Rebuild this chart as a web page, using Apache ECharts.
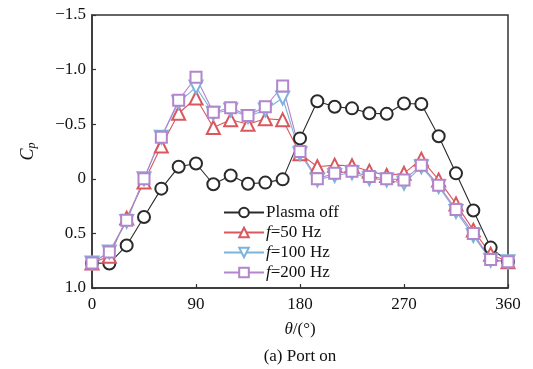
<!DOCTYPE html>
<html><head><meta charset="utf-8">
<script src="https://cdn.jsdelivr.net/npm/echarts@6/dist/echarts.min.js"></script>
<style>html,body{margin:0;padding:0;background:#fff}#c{width:533px;height:369px}</style>
</head><body><div id="c"></div>
<script>
const angles = [0,15,30,45,60,75,90,105,120,135,150,165,180,195,210,225,240,255,270,285,300,315,330,345,360];
const plasmaOff = [0.77,0.775,0.61,0.35,0.09,-0.11,-0.14,0.05,-0.03,0.045,0.035,0.005,-0.37,-0.71,-0.66,-0.645,-0.60,-0.595,-0.69,-0.685,-0.39,-0.05,0.29,0.63,0.76];
const f50 = [0.77,0.71,0.36,0.03,-0.30,-0.60,-0.74,-0.47,-0.54,-0.50,-0.55,-0.54,-0.23,-0.11,-0.125,-0.12,-0.07,-0.03,-0.05,-0.18,0.01,0.23,0.47,0.69,0.76];
const f100 = [0.77,0.67,0.39,0.0,-0.38,-0.70,-0.84,-0.60,-0.63,-0.57,-0.63,-0.74,-0.23,0.01,-0.03,-0.055,0.0,0.01,0.04,-0.11,0.07,0.30,0.52,0.745,0.76];
const f200 = [0.77,0.67,0.38,0.0,-0.38,-0.72,-0.93,-0.61,-0.65,-0.58,-0.66,-0.85,-0.25,0.0,-0.05,-0.07,-0.02,0.0,0.01,-0.125,0.06,0.28,0.50,0.74,0.76];
const seriesNames = ['Plasma off','f=50 Hz','f=100 Hz','f=200 Hz'];
const yTicks = [-1.5,-1.0,-0.5,0,0.5,1.0];
const xTicks = [0,90,180,270,360];

const FONT = '"Liberation Serif","Times New Roman",serif';
const pair = arr => angles.map((a,i)=>[a,arr[i]]);
const chart = echarts.init(document.getElementById('c'));
const mk = (name, data, color, symbol, size, rot) => ({
  name, type:'line', data: pair(data), symbol, symbolSize:size, symbolRotate: rot||0,
  lineStyle:{color, width:1.1}, itemStyle:{color, borderWidth:1.1}, emphasis:{disabled:true}, z: 2
});
chart.setOption({
  animation:false,
  textStyle:{fontFamily:FONT},
  grid:{left:92,right:25,top:15,bottom:81,show:true,borderColor:'#333',borderWidth:1.5,backgroundColor:'transparent'},
  legend:{
    orient:'vertical', left:218, top:199, itemWidth:40, itemHeight:12, itemGap:3,
    textStyle:{fontFamily:FONT,fontSize:17,color:'#111',padding:[0,0,0,-3],
      rich:{i:{fontStyle:'italic',fontFamily:FONT,fontSize:17,color:'#111'},n:{fontFamily:FONT,fontSize:17,color:'#111'}}},
    formatter: n => n.startsWith('f=') ? '{i|f}{n|' + n.slice(1) + '}' : n,
    data: seriesNames
  },
  xAxis:{
    type:'value', min:xTicks[0], max:xTicks[xTicks.length-1], interval:90,
    name:'{i|θ}{n|/(°)}', nameLocation:'middle', nameGap:33,
    nameTextStyle:{rich:{i:{fontStyle:'italic',fontFamily:FONT,fontSize:17,color:'#111'},n:{fontFamily:FONT,fontSize:17,color:'#111'}}},
    axisLine:{onZero:false,lineStyle:{color:'#333',width:1.5}},
    axisTick:{inside:true,length:4,lineStyle:{color:'#333',width:1.2}},
    axisLabel:{fontFamily:FONT,fontSize:17,color:'#111',margin:8, showMinLabel:true, showMaxLabel:true},
    splitLine:{show:false}
  },
  yAxis:{
    type:'value', inverse:true, min:yTicks[0], max:yTicks[yTicks.length-1], interval:0.5,
    name:'{i|C}{s|p}', nameLocation:'middle', nameGap:54,
    nameTextStyle:{rich:{i:{fontStyle:'italic',fontFamily:FONT,fontSize:18,color:'#111'},s:{fontStyle:'italic',fontFamily:FONT,fontSize:12,color:'#111',verticalAlign:'bottom',padding:[8,0,0,0]}}},
    axisLine:{onZero:false,lineStyle:{color:'#333',width:1.5}},
    axisTick:{inside:true,length:4,lineStyle:{color:'#333',width:1.2}},
    axisLabel:{fontFamily:FONT,fontSize:17,color:'#111',margin:6,
      formatter: v => v===0 ? '0' : (v<0?'\u2212':'') + Math.abs(v).toFixed(1)},
    splitLine:{show:false}
  },
  graphic:[{type:'text', x:300, y:357, style:{text:'(a) Port on', font:'17px '+FONT, fill:'#111', textAlign:'center', textVerticalAlign:'middle'}}],
  series:[
    mk(seriesNames[0], plasmaOff, '#2a2a2a', 'emptyCircle', 12),
    mk(seriesNames[1], f50, '#d9585e', 'emptyTriangle', 13),
    mk(seriesNames[2], f100, '#7eb3dc', 'emptyTriangle', 13, 180),
    mk(seriesNames[3], f200, '#b285cc', 'emptyRect', 11)
  ]
});
</script></body></html>
